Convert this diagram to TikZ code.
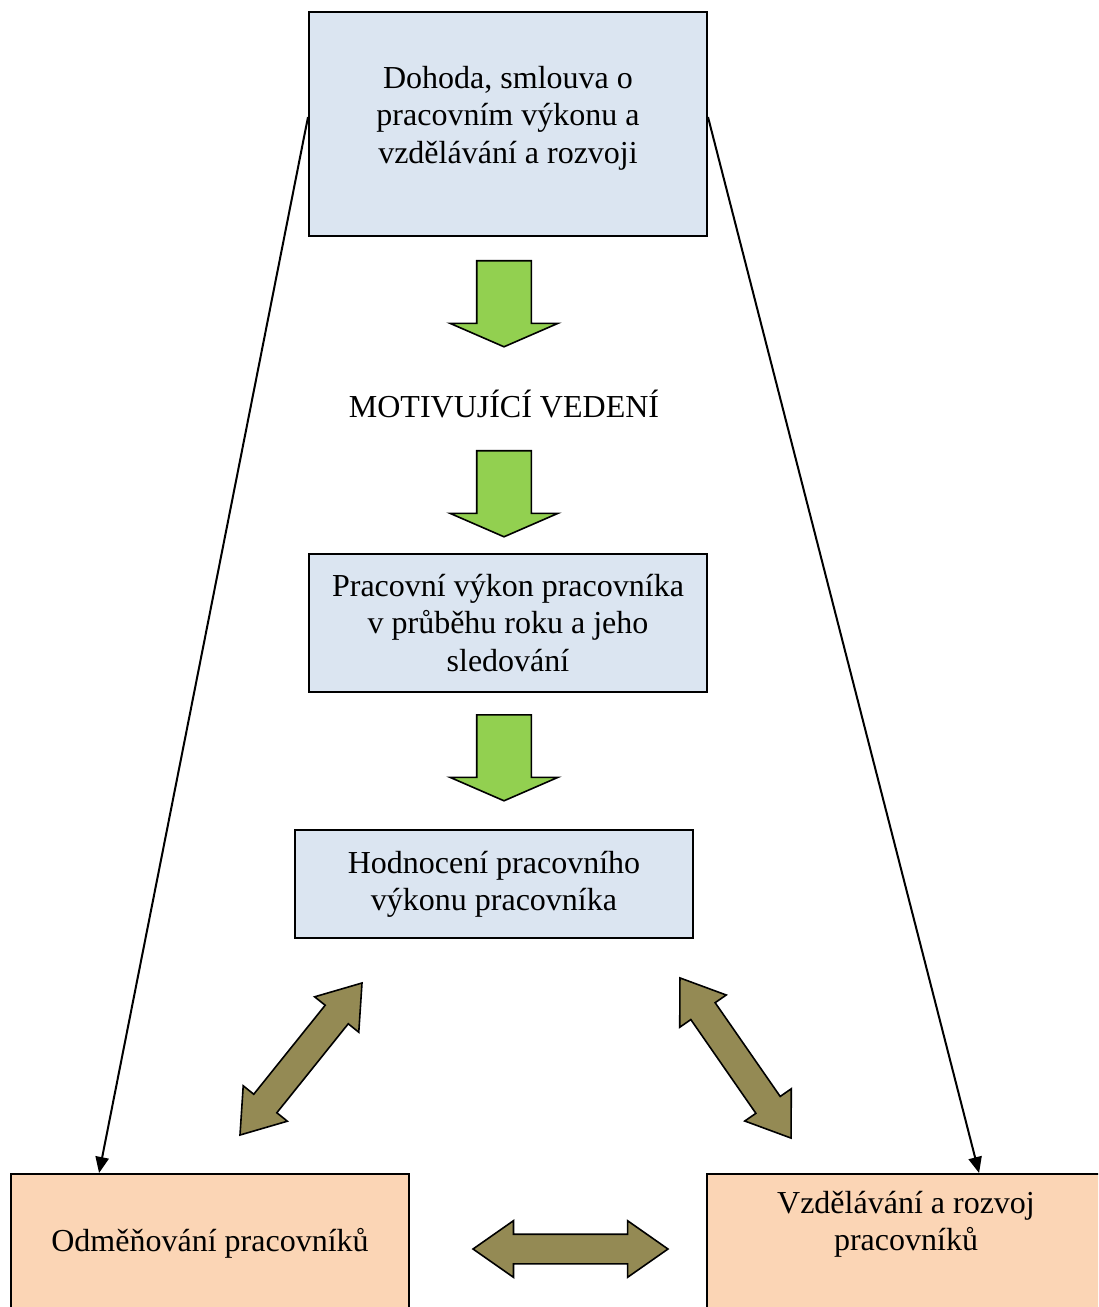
\documentclass[tikz,border=0pt]{standalone}
\usepackage{fontspec}
\setmainfont{Liberation Serif}
\usetikzlibrary{shapes.arrows,arrows.meta}
\definecolor{boxblue}{HTML}{DBE5F1}
\definecolor{boxpeach}{HTML}{FBD5B5}
\definecolor{arrowgreen}{HTML}{92D050}
\definecolor{arrowolive}{HTML}{948A54}
\tikzset{
	txt/.style={font=\fontsize{12}{14}\selectfont,align=center},
	bluebox/.style 2 args={draw,line width=0.75pt,fill=boxblue,minimum width=#1,minimum height=#2,txt},
	peachbox/.style 2 args={draw,line width=0.75pt,fill=boxpeach,minimum width=#1,minimum height=#2},
	greenarrow/.style={draw,line width=0.6pt,fill=arrowgreen,single arrow,rotate=-90,inner xsep=0pt,inner ysep=9.94pt,
		single arrow head extend=9.94pt,single arrow tip angle=133,minimum width=39.75pt,minimum height=32.25pt},
	olivearrow/.style={draw,line width=0.6pt,fill=arrowolive,double arrow,rotate=#1,inner xsep=0pt,inner ysep=5.25pt,
		double arrow head extend=5.06pt,double arrow tip angle=70,minimum width=20.6pt,minimum height=73.1pt},
	link/.style={line width=0.75pt,-{Triangle[length=6pt,width=5pt]}}
}
\begin{document}
\begin{tikzpicture}[x=0.375pt,y=-0.375pt]
	\useasboundingbox (0,0) rectangle (1098,1307);
	\begin{scope}
		\clip (0,0) rectangle (1098,1307);
		\node [peachbox={149.25pt}{51pt}] (odmbox) at (210,1242) {};
		\node [peachbox={149.25pt}{51pt}] (vzdbox) at (906,1242) {};
	\end{scope}
	\node [txt] (odm) at (210,1243) {Odměňování pracovníků};
	\node [txt] (vzd) at (906,1224) {Vzdělávání a rozvoj\\pracovníků};

	\node [bluebox={149.25pt}{84pt}] (dohoda) at (508,124) {};
	\node [txt] (dohodatxt) at (508,118) {Dohoda, smlouva o\\pracovním výkonu a\\vzdělávání a rozvoji};
	\node [greenarrow,anchor=tail] (g1) at (504,260) {};
	\node [txt] (motiv) at (504,404) {MOTIVUJÍCÍ VEDENÍ};
	\node [greenarrow,anchor=tail] (g2) at (504,450) {};
	\node [bluebox={149.25pt}{51.75pt}] (vykon) at (508,623) {Pracovní výkon pracovníka\\v průběhu roku a jeho\\sledování};
	\node [greenarrow,anchor=tail] (g3) at (504,714) {};
	\node [bluebox={149.25pt}{40.5pt}] (hodn) at (494,884) {Hodnocení pracovního\\výkonu pracovníka};

	\node [olivearrow=51.25] (o1) at (301,1059) {};
	\node [olivearrow=-55.25] (o2) at (735.5,1058) {};
	\node [olivearrow=0] (o3) at (570.5,1249) {};

	\draw [link] ([yshift=2.6pt]dohoda.west) -- ([xshift=33.4pt]odmbox.north west);
	\draw [link] ([yshift=2.6pt]dohoda.east) -- ([xshift=102.4pt]vzdbox.north west);
\end{tikzpicture}
\end{document}
